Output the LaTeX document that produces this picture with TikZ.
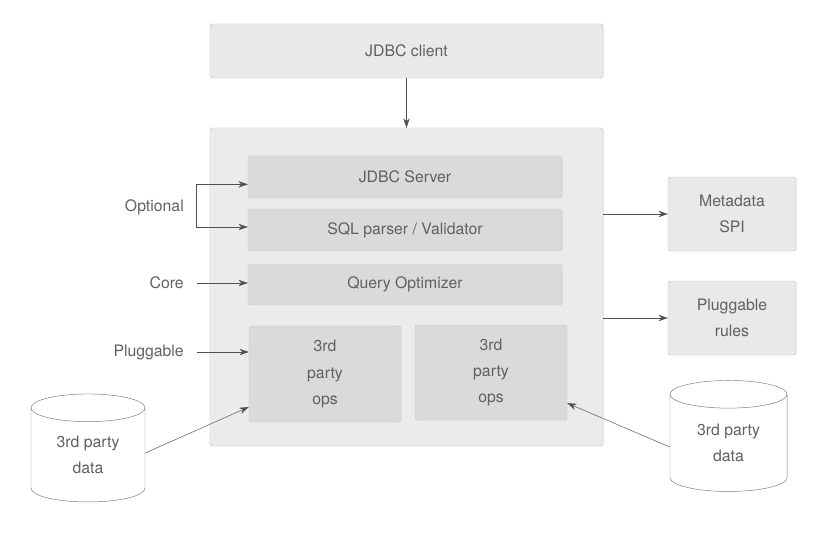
\documentclass[tikz,border=0pt]{standalone}
\usepackage{fontspec}
\setmainfont{TeX Gyre Heros}
\usetikzlibrary{shapes.geometric,arrows.meta}

\definecolor{txtgray}{HTML}{606060}
\definecolor{linegray}{HTML}{505050}
\definecolor{boxline}{HTML}{C4C4C4}
\definecolor{outerfill}{HTML}{EBEBEB}
\definecolor{innerfill}{HTML}{DADADA}
\definecolor{clientfill}{HTML}{E9E9E9}
\definecolor{drumline}{HTML}{7A7A7A}

\tikzset{
  box/.style={draw=boxline, fill=clientfill, rounded corners=2pt, inner sep=0pt,
    text=txtgray, align=center},
  inbox/.style={box, fill=innerfill, draw=innerfill!92!black},
  store/.style={cylinder, shape border rotate=90, aspect=0.44, draw=drumline,
    inner sep=0pt, text=txtgray, align=center},
  lbl/.style={text=txtgray, inner xsep=0.39cm, inner ysep=0pt, anchor=east},
  flow/.style={draw=linegray, -{Stealth[length=8pt,width=5.5pt]}},
}

\begin{document}
\begin{tikzpicture}[x=0.03cm, y=-0.03cm, font=\fontsize{13.5}{16}\selectfont]
    \useasboundingbox[fill=white] (0,0) rectangle (820,539);

    % Client on top
    \node[box, minimum width=11.79cm, minimum height=1.62cm] (client) at (406.5,51) {JDBC client};

    % Server frame and its layers
    \node[box, fill=outerfill, minimum width=11.79cm, minimum height=9.54cm] (server) at (406.5,287) {};
    \node[inbox, minimum width=9.42cm, minimum height=1.26cm] (jdbcsrv) at (405,177) {JDBC Server};
    \node[inbox, minimum width=9.42cm, minimum height=1.26cm] (parser) at (405,230) {SQL parser / Validator};
    \node[inbox, minimum width=9.42cm, minimum height=1.23cm] (optim) at (405,284.5) {Query Optimizer};
    \node[inbox, minimum width=4.56cm, minimum height=2.88cm] (opsA) at (325,374) {3rd\\[6.5pt]party\\[6.5pt]ops};
    \node[inbox, minimum width=4.56cm, minimum height=2.85cm] (opsB) at (491,372.5) {3rd\\[6.5pt]party\\[6.5pt]ops};

    % Side boxes
    \node[box, minimum width=3.84cm, minimum height=2.22cm] (meta) at (732,214) {Metadata\\[6pt]SPI};
    \node[box, minimum width=3.84cm, minimum height=2.22cm] (rules) at (732,318) {Pluggable\\[6pt]rules};

    % Data stores
    \node[store, minimum width=3.42cm, minimum height=3.24cm] (dataA) at (88,455) {3rd party\\[6pt]data};
    \node[store, minimum width=3.51cm, minimum height=3.33cm] (dataB) at (728.5,443) {3rd party\\[6pt]data};

    % Labels on the left
    \node[lbl] (optional) at (197,207) {Optional};
    \node[lbl] (core) at (197,283) {Core};
    \node[lbl] (pluggable) at (197,352) {Pluggable};
    \coordinate (brk) at (196,207);

    % Connectors
    \draw[flow] (client) -- (server);
    \draw[flow] (meta.west -| server.east) -- (meta.west);
    \draw[flow] (rules.west -| server.east) -- (rules.west);
    \draw[flow] (brk) |- ([yshift=-0.22cm]jdbcsrv.west);
    \draw[flow] (brk) |- ([yshift=0.09cm]parser.west);
    \draw[flow] (core.east) -- (core.east -| optim.west);
    \draw[flow] (pluggable.east) -- (pluggable.east -| opsA.west);
    \draw[flow] ([yshift=0.06cm]dataA.east) -- ([yshift=-0.99cm]opsA.west);
    \draw[flow] ([yshift=-0.12cm]dataB.west) -- ([yshift=-0.92cm]opsB.east);

\end{tikzpicture}
\end{document}
